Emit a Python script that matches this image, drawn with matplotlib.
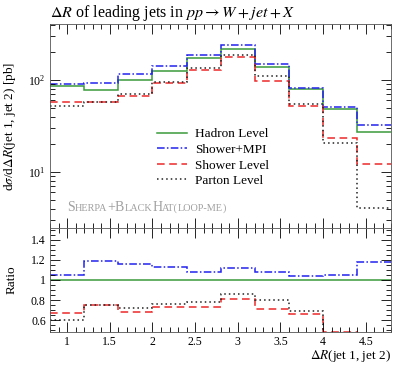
import matplotlib
matplotlib.use("Agg")
import matplotlib.pyplot as plt
from matplotlib.ticker import MultipleLocator, LogLocator, NullFormatter, FixedLocator
from matplotlib.transforms import offset_copy
from matplotlib.font_manager import FontProperties
import numpy as np

plt.rcParams['font.family'] = ['Liberation Serif', 'DejaVu Serif']
plt.rcParams['mathtext.fontset'] = 'stix'

edges = [0.8, 1.2, 1.6, 2.0, 2.4, 2.8, 3.2, 3.6, 4.0, 4.4, 4.8]
hadron = [86.7, 77.8, 99.0, 126, 175, 217, 137, 79.2, 48.0, 27.4]
shower_mpi = [91.0, 92.6, 115, 142, 189, 243, 148, 82.4, 50.4, 32.3]
shower = [58.1, 58.4, 67.3, 92.0, 127.8, 175.8, 97.3, 52.3, 23.2, 12.3]
parton = [52.0, 58.4, 71.3, 95.8, 136.5, 186.6, 109.6, 54.6, 20.8, 4.1]

labels = ['Hadron Level', 'Shower+MPI', 'Shower Level', 'Parton Level']
colors = ['#3a9a3a', '#2222ee', '#ee2828', '#222222']
styles = ['-', (0, (5, 1.5, 1, 1.5)), (0, (5, 3)), (0, (1, 2))]

fig = plt.figure(figsize=(4.05, 3.65), dpi=100)
ax = fig.add_axes([0.1235, 0.375, 0.843, 0.559])
rx = fig.add_axes([0.1235, 0.091, 0.843, 0.284], sharex=ax)

series = [hadron, shower_mpi, shower, parton]
for vals, lab, c, ls in zip(series, labels, colors, styles):
    ax.stairs(vals, edges, color=c, linestyle=ls, lw=1.1, label=lab, baseline=None)
    ratio = np.array(vals) / np.array(hadron)
    rx.stairs(ratio, edges, color=c, linestyle=ls, lw=1.1, baseline=None)

ax.set_yscale('log')
ax.set_xlim(0.8, 4.8)
ax.set_ylim(2.46, 405)
rx.set_ylim(0.485, 1.515)

for a in (ax, rx):
    a.tick_params(which='both', direction='in', top=True, right=True, labelsize=8.5, pad=3)
    a.tick_params(which='major', length=7, width=0.6)
    a.tick_params(which='minor', length=3.5, width=0.6)
    for s in a.spines.values():
        s.set_linewidth(0.6)
        s.set_color('#555555')

ax.yaxis.set_major_locator(LogLocator(base=10))
ax.yaxis.set_minor_locator(LogLocator(base=10, subs=np.arange(2, 10)))
ax.yaxis.set_minor_formatter(NullFormatter())
ax.xaxis.set_major_locator(MultipleLocator(0.5))
ax.xaxis.set_minor_locator(MultipleLocator(0.1))
plt.setp(ax.get_xticklabels(), visible=False)

rx.yaxis.set_major_locator(FixedLocator([0.6, 0.8, 1.0, 1.2, 1.4]))
rx.yaxis.set_minor_locator(MultipleLocator(0.05))
rx.set_yticklabels(['0.6', '0.8', '1', '1.2', '1.4'])
rx.set_xticks([1, 1.5, 2, 2.5, 3, 3.5, 4, 4.5])
rx.set_xticklabels(['1', '1.5', '2', '2.5', '3', '3.5', '4', '4.5'])

ax.set_title(r'$\Delta R$ of leading jets in $pp \rightarrow W + jet + X$',
             loc='left', fontsize=11.5, pad=5)
ax.set_ylabel(r'd$\sigma$/d$\Delta R$(jet 1, jet 2) [pb]', fontsize=9.5)
ax.yaxis.set_label_coords(-0.095, 0.5)
rx.set_ylabel('Ratio', fontsize=9.5)
rx.yaxis.set_label_coords(-0.095, 0.5)
rx.set_xlabel(r'$\Delta R$(jet 1, jet 2)', fontsize=9.5, loc='right', labelpad=0)

ax.legend(loc='upper left', bbox_to_anchor=(0.285, 0.535), frameon=False,
          fontsize=9.5, handlelength=2.3, handletextpad=0.6,
          labelspacing=0.25, borderpad=0.2)

# small-caps style generator label
pieces = [('S', 10), ('HERPA', 7.4), ('+B', 10), ('LACK', 7.4), ('H', 10), ('AT(', 7.4), ('LOOP-ME', 7.4), (')', 7.4)]
renderer = fig.canvas.get_renderer()
trans = ax.transAxes
for txt, sz in pieces:
    ax.text(0.05, 0.085, txt, transform=trans, fontsize=sz, color='#a0a0a0', va='baseline')
    fp = FontProperties(family=['Liberation Serif'], size=sz)
    w, h, d = renderer.get_text_width_height_descent(txt, fp, ismath=False)
    trans = offset_copy(trans, fig=fig, x=w, y=0, units='dots')

fig.savefig('out.png', dpi=100)
